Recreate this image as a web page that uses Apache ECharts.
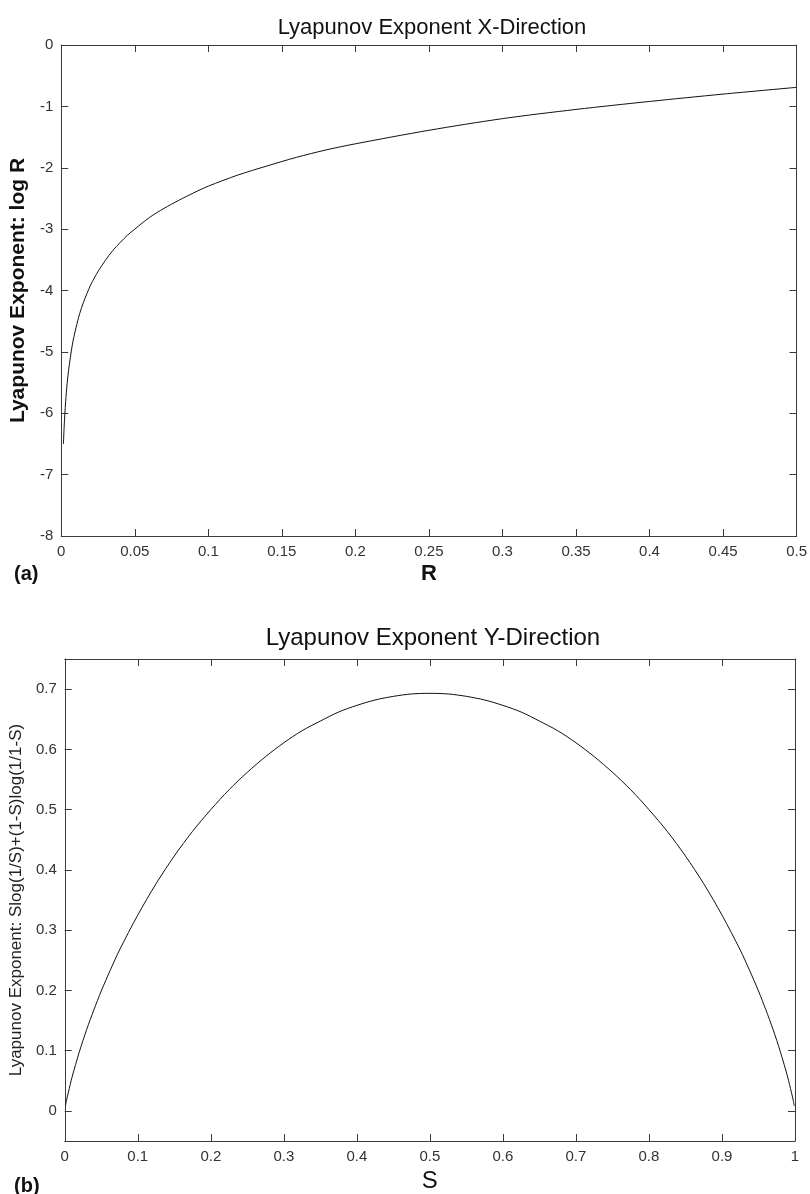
<!DOCTYPE html>
<html>
<head>
<meta charset="utf-8">
<script src="https://cdn.jsdelivr.net/npm/echarts@6/dist/echarts.min.js"></script>
<style>
  html, body { margin: 0; padding: 0; background: #fff; }
  #chart { width: 810px; height: 1194px; }
</style>
</head>
<body>
<div id="chart"></div>
<script>
// ---- Panel (a): Lyapunov exponent X-direction, log R ----
const rValues = [0.0015, 0.002, 0.003, 0.004, 0.005, 0.0075, 0.01, 0.0125, 0.015, 0.0175, 0.02, 0.025, 0.03, 0.035, 0.04, 0.045, 0.05, 0.06, 0.07, 0.08, 0.09, 0.1, 0.12, 0.14, 0.16, 0.18, 0.2, 0.25, 0.3, 0.35, 0.4, 0.45, 0.5];
const logRValues = [-6.50, -6.21, -5.81, -5.52, -5.30, -4.89, -4.61, -4.38, -4.20, -4.05, -3.91, -3.69, -3.51, -3.35, -3.22, -3.10, -3.00, -2.81, -2.66, -2.53, -2.41, -2.30, -2.12, -1.97, -1.83, -1.71, -1.61, -1.39, -1.20, -1.05, -0.92, -0.80, -0.69];

// ---- Panel (b): Lyapunov exponent Y-direction ----
const sValues = [0.001, 0.0025, 0.005, 0.01, 0.02, 0.03, 0.04, 0.05, 0.0625, 0.075, 0.1, 0.125, 0.15, 0.175, 0.2, 0.225, 0.25, 0.275, 0.3, 0.325, 0.35, 0.375, 0.4, 0.425, 0.45, 0.475, 0.5, 0.525, 0.55, 0.575, 0.6, 0.625, 0.65, 0.675, 0.7, 0.725, 0.75, 0.775, 0.8, 0.825, 0.85, 0.875, 0.9, 0.925, 0.9375, 0.95, 0.96, 0.97, 0.98, 0.99, 0.995, 0.9975, 0.999];
const entropyValues = [0.008, 0.018, 0.031, 0.056, 0.098, 0.135, 0.168, 0.199, 0.234, 0.267, 0.325, 0.377, 0.423, 0.464, 0.500, 0.533, 0.562, 0.588, 0.611, 0.631, 0.647, 0.662, 0.673, 0.682, 0.688, 0.692, 0.693, 0.692, 0.688, 0.682, 0.673, 0.662, 0.647, 0.631, 0.611, 0.588, 0.562, 0.533, 0.500, 0.464, 0.423, 0.377, 0.325, 0.267, 0.234, 0.199, 0.168, 0.135, 0.098, 0.056, 0.031, 0.018, 0.008];
const bYTicks = [0, 0.1, 0.2, 0.3, 0.4, 0.5, 0.6, 0.7];

const FONT = "'Liberation Sans', Arial, Helvetica, sans-serif";
const AXIS_COLOR = '#3a3a3a';
const LABEL_COLOR = '#333';

function pair(a, b) { return a.map((v, i) => [v, b[i]]); }

function mainAxisStyle(extra) {
  return Object.assign({
    axisLine: { show: true, onZero: false, lineStyle: { color: AXIS_COLOR, width: 1 } },
    axisTick: { show: true, inside: true, length: 7, lineStyle: { color: AXIS_COLOR, width: 1 } },
    axisLabel: { color: LABEL_COLOR, fontFamily: FONT, fontSize: 15 },
    splitLine: { show: false }
  }, extra);
}
function mirrorAxisStyle(extra) {
  return Object.assign({
    axisLine: { show: true, onZero: false, lineStyle: { color: AXIS_COLOR, width: 1 } },
    axisTick: { show: true, inside: true, length: 7, lineStyle: { color: AXIS_COLOR, width: 1 } },
    axisLabel: { show: false },
    splitLine: { show: false }
  }, extra);
}

const chart = echarts.init(document.getElementById('chart'), null, { renderer: 'canvas' });

const option = {
  backgroundColor: '#ffffff',
  animation: false,
  title: [
    { text: 'Lyapunov Exponent X-Direction', left: 427, top: 12, textAlign: 'center',
      textStyle: { fontFamily: FONT, fontSize: 22, fontWeight: 'normal', color: '#111' } },
    { text: 'Lyapunov Exponent Y-Direction', left: 428, top: 621, textAlign: 'center',
      textStyle: { fontFamily: FONT, fontSize: 24, fontWeight: 'normal', color: '#111' } },
    { text: '(a)', left: 9, top: 559,
      textStyle: { fontFamily: FONT, fontSize: 20, fontWeight: 'bold', color: '#111' } },
    { text: '(b)', left: 9, top: 1171,
      textStyle: { fontFamily: FONT, fontSize: 20, fontWeight: 'bold', color: '#111' } }
  ],
  grid: [
    { left: 57, top: 45, width: 741, height: 491, containLabel: false },
    { left: 62, top: 659, width: 733, height: 487, containLabel: false }
  ],
  xAxis: [
    mainAxisStyle({
      type: 'value', gridIndex: 0, position: 'bottom', min: 0, max: 0.5, interval: 0.05,
      name: 'R', nameLocation: 'middle', nameGap: 27,
      nameTextStyle: { fontFamily: FONT, fontSize: 22, fontWeight: 'bold', color: '#111' }
    }),
    mirrorAxisStyle({ type: 'value', gridIndex: 0, position: 'top', min: 0, max: 0.5, interval: 0.05 }),
    mainAxisStyle({
      type: 'value', gridIndex: 1, position: 'bottom', min: 0, max: 1, interval: 0.1,
      name: 'S', nameLocation: 'middle', nameGap: 28,
      nameTextStyle: { fontFamily: FONT, fontSize: 24, fontWeight: 'normal', color: '#111' }
    }),
    mirrorAxisStyle({ type: 'value', gridIndex: 1, position: 'top', min: 0, max: 1, interval: 0.1 })
  ],
  yAxis: [
    mainAxisStyle({
      type: 'value', gridIndex: 0, position: 'left', min: -8, max: 0, interval: 1,
      name: 'Lyapunov Exponent: log R', nameLocation: 'middle', nameGap: 24,
      nameTextStyle: { fontFamily: FONT, fontSize: 21, fontWeight: 'bold', color: '#111' }
    }),
    mirrorAxisStyle({ type: 'value', gridIndex: 0, position: 'right', min: -8, max: 0, interval: 1 }),
    mainAxisStyle({
      type: 'value', gridIndex: 1, position: 'left', min: -0.05, max: 0.75,
      axisLabel: { color: LABEL_COLOR, fontFamily: FONT, fontSize: 15, customValues: bYTicks },
      axisTick: { show: true, inside: true, length: 7, customValues: bYTicks, lineStyle: { color: AXIS_COLOR, width: 1 } },
      name: 'Lyapunov Exponent: Slog(1/S)+(1-S)log(1/1-S)', nameLocation: 'middle', nameGap: 36,
      nameTextStyle: { fontFamily: FONT, fontSize: 17, fontWeight: 'normal', color: '#222' }
    }),
    mirrorAxisStyle({
      type: 'value', gridIndex: 1, position: 'right', min: -0.05, max: 0.75,
      axisTick: { show: true, inside: true, length: 7, customValues: bYTicks, lineStyle: { color: AXIS_COLOR, width: 1 } }
    })
  ],
  series: [
    {
      type: 'line', xAxisIndex: 0, yAxisIndex: 0, data: pair(rValues, logRValues),
      showSymbol: false, symbol: 'none', smooth: 0.3,
      lineStyle: { color: '#111', width: 1 }
    },
    {
      type: 'line', xAxisIndex: 2, yAxisIndex: 2, data: pair(sValues, entropyValues),
      showSymbol: false, symbol: 'none', smooth: 0.3,
      lineStyle: { color: '#111', width: 1 }
    }
  ]
};
chart.setOption(option);
</script>
</body>
</html>
